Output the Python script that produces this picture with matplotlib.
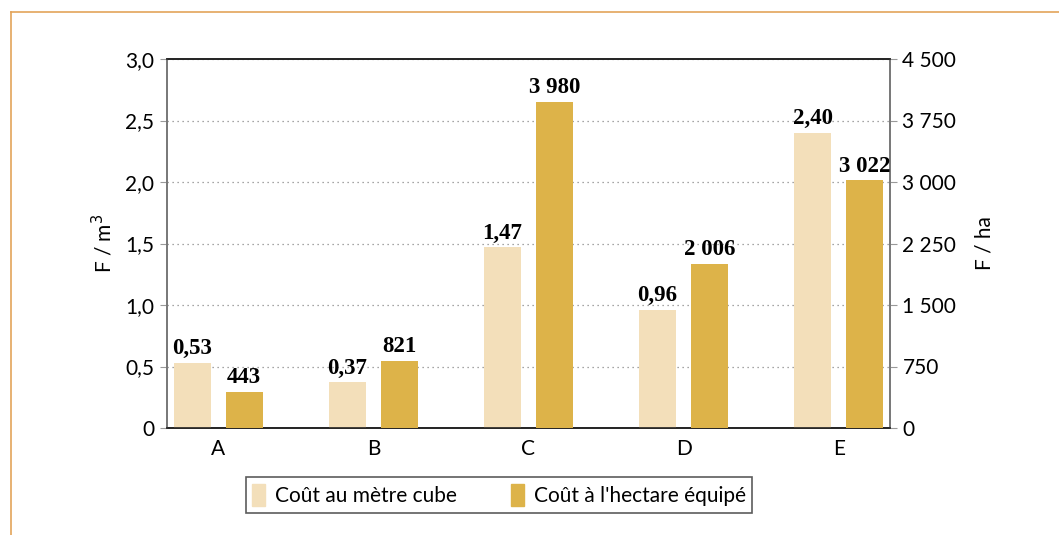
import matplotlib
matplotlib.use('Agg')
import matplotlib.pyplot as plt
import numpy as np
from matplotlib.lines import Line2D

categories = ['A', 'B', 'C', 'D', 'E']
cout_m3 = [0.53, 0.37, 1.47, 0.96, 2.40]          # F / m3
cout_ha = [443, 821, 3980, 2006, 3022]            # F / ha
left_ticks = [0, 0.5, 1.0, 1.5, 2.0, 2.5, 3.0]
left_tick_labels = ['0', '0,5', '1,0', '1,5', '2,0', '2,5', '3,0']
right_ticks = [0, 750, 1500, 2250, 3000, 3750, 4500]
right_tick_labels = ['0', '750', '1 500', '2 250', '3 000', '3 750', '4 500']

light = '#F3DFBA'
dark = '#DDB349'

plt.rcParams['font.family'] = ['Lato', 'DejaVu Sans']

fig = plt.figure(figsize=(10.59, 5.35), dpi=100)
ax = fig.add_axes([167 / 1059, 1 - 428 / 535, 723 / 1059, 369 / 535])
ax2 = ax.twinx()

x = np.arange(len(categories))
w = 0.24
off = 0.168
ax.bar(x - off, cout_m3, w, color=light, zorder=3)
ax2.bar(x + off, cout_ha, w, color=dark, zorder=3)

ax.set_xlim(-0.33, 4.33)
ax.set_ylim(0, 3.0)
ax2.set_ylim(0, 4500)

ax.set_yticks(left_ticks)
ax.set_yticklabels(left_tick_labels)
ax2.set_yticks(right_ticks)
ax2.set_yticklabels(right_tick_labels)
ax.set_xticks(x)
ax.set_xticklabels(categories)

fs = 15
for a in (ax, ax2):
    a.tick_params(axis='y', length=5, width=0.8, color='#999999', labelsize=fs, pad=4)
    for s in a.spines.values():
        s.set_color('#777777')
        s.set_linewidth(1.2)
    a.spines['top'].set_color('#222222')
    a.spines['bottom'].set_color('#222222')
ax.tick_params(axis='x', length=0, labelsize=fs, pad=8)

ax.yaxis.grid(True, linestyle=(0, (1, 3)), color='#888888', linewidth=0.9)
ax.set_axisbelow(True)

ax.set_ylabel('F / m$^3$', fontsize=fs, labelpad=7)
ax2.set_ylabel('F / ha', fontsize=fs, labelpad=13)

serif = ['Liberation Serif', 'DejaVu Serif']
for xi, v in zip(x, cout_m3):
    ax.text(xi - off, v + 0.03, f'{v:.2f}'.replace('.', ','), ha='center', va='bottom',
            fontsize=16.5, fontweight='bold', family=serif)
for xi, v in zip(x, cout_ha):
    lab = f'{v:,}'.replace(',', ' ')
    ax2.text(xi + off, v + 45, lab, ha='center', va='bottom',
             fontsize=16.5, fontweight='bold', family=serif)

handles = [plt.Rectangle((0, 0), 1, 1, color=light), plt.Rectangle((0, 0), 1, 1, color=dark)]
leg = fig.legend(handles, ['Coût au mètre cube', "Coût à l'hectare équipé"],
                 loc='center', bbox_to_anchor=(499 / 1059, 1 - 495 / 535), ncol=2,
                 fontsize=fs, frameon=True, fancybox=False, handlelength=0.6,
                 handleheight=1.3, columnspacing=2.6, handletextpad=0.5,
                 borderpad=0.3, borderaxespad=0)
leg.get_frame().set_edgecolor('#333333')
leg.get_frame().set_linewidth(1.2)

# orange frame edges
fig.add_artist(Line2D([11 / 1059, 1], [1 - 12 / 535, 1 - 12 / 535], color='#E3A45A', linewidth=1.2))
fig.add_artist(Line2D([11 / 1059, 11 / 1059], [0, 1 - 12 / 535], color='#E3A45A', linewidth=1.2))

fig.savefig('out.png', dpi=100)
